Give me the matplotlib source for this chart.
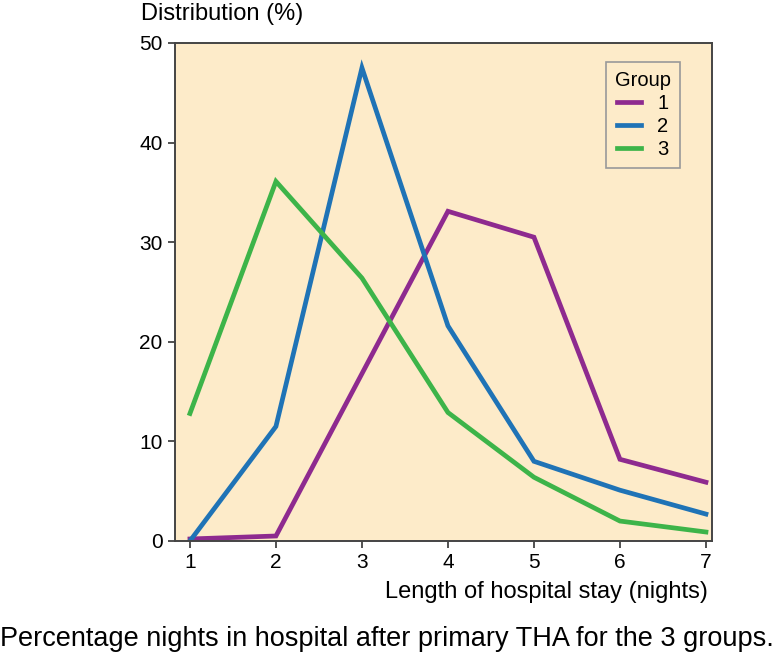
import matplotlib.pyplot as plt

plt.rcParams['font.family'] = ['Liberation Sans', 'DejaVu Sans']

nights = [1, 2, 3, 4, 5, 6, 7]
group1 = [0.2, 0.5, 16.8, 33.1, 30.5, 8.2, 5.9]
group2 = [0.0, 11.5, 47.5, 21.6, 8.0, 5.1, 2.7]
group3 = [12.8, 36.1, 26.4, 12.9, 6.4, 2.0, 0.9]
groups = ['1', '2', '3']
colors = ['#8e2a8f', '#1f73b6', '#3db449']

fig = plt.figure(figsize=(7.77, 6.57), dpi=100)
ax = fig.add_axes([0.2252, 0.1766, 0.6911, 0.758])
ax.set_facecolor('#fdebc9')

for ys, lab, c in zip([group1, group2, group3], groups, colors):
    ax.plot(nights, ys, color=c, lw=3.4, label=lab, solid_joinstyle='miter')

ax.set_xlim(0.826, 7.07)
ax.set_ylim(0, 50)
ax.set_xticks(nights)
ax.set_yticks([0, 10, 20, 30, 40, 50])
ax.tick_params(labelsize=15, length=5, width=1.2, color='#333333', pad=4)
for s in ax.spines.values():
    s.set_linewidth(1.4)
    s.set_color('#444444')

leg = ax.legend(title='Group', loc='upper right', bbox_to_anchor=(0.940, 0.962),
                borderaxespad=0, fontsize=14.5, title_fontsize=14.5,
                handlelength=1.2, handletextpad=0.8, labelspacing=0.2,
                fancybox=False, framealpha=1, facecolor='#fdebc9',
                edgecolor='#999999', borderpad=0.45)
leg.get_frame().set_linewidth(1.2)

fig.text(0.181, 0.979, 'Distribution (%)', fontsize=17, ha='left', va='center')
fig.text(0.911, 0.099, 'Length of hospital stay (nights)', fontsize=17,
         ha='right', va='center')
fig.text(0.0, 0.028, 'Percentage nights in hospital after primary THA for the 3 groups.',
         fontsize=19.5, ha='left', va='center')

fig.savefig('out.png', dpi=100)
